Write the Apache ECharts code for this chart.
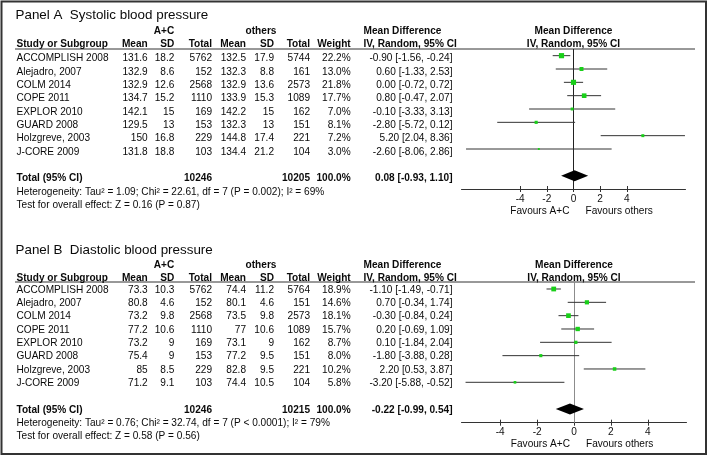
<!DOCTYPE html>
<html><head><meta charset="utf-8">
<script src="https://cdn.jsdelivr.net/npm/echarts@6/dist/echarts.min.js"></script>
<style>html,body{margin:0;padding:0;background:#fff}#c{width:709px;height:456px}</style>
</head><body><div id="c"></div>
<script>
// ---------- DATA ----------
const studies = ["ACCOMPLISH 2008","Alejadro, 2007","COLM 2014","COPE 2011","EXPLOR 2010","GUARD 2008","Holzgreve, 2003","J-CORE 2009"];

// Panel A: Systolic
const aTitle = "Panel A  Systolic blood pressure";
const aMeanAC = [131.6,132.9,132.9,134.7,142.1,129.5,150,131.8];
const aSdAC   = [18.2,8.6,12.6,15.2,15,13,16.8,18.8];
const aNAC    = [5762,152,2568,1110,169,153,229,103];
const aMeanO  = [132.5,132.3,132.9,133.9,142.2,132.3,144.8,134.4];
const aSdO    = [17.9,8.8,13.6,15.3,15,13,17.4,21.2];
const aNO     = [5744,161,2573,1089,162,151,221,104];
const aWeight = [22.2,13.0,21.8,17.7,7.0,8.1,7.2,3.0];
const aMD     = [-0.90,0.60,0.00,0.80,-0.10,-2.80,5.20,-2.60];
const aLo     = [-1.56,-1.33,-0.72,-0.47,-3.33,-5.72,2.04,-8.06];
const aHi     = [-0.24,2.53,0.72,2.07,3.13,0.12,8.36,2.86];
const aTotal  = {nAC:10246, nO:10205, w:100.0, md:0.08, lo:-0.93, hi:1.10};
const aHet    = "Heterogeneity: Tau² = 1.09; Chi² = 22.61, df = 7 (P = 0.002); I² = 69%";
const aTest   = "Test for overall effect: Z = 0.16 (P = 0.87)";

// Panel B: Diastolic
const bTitle = "Panel B  Diastolic blood pressure";
const bMeanAC = [73.3,80.8,73.2,77.2,73.2,75.4,85,71.2];
const bSdAC   = [10.3,4.6,9.8,10.6,9,9,8.5,9.1];
const bNAC    = [5762,152,2568,1110,169,153,229,103];
const bMeanO  = [74.4,80.1,73.5,77,73.1,77.2,82.8,74.4];
const bSdO    = [11.2,4.6,9.8,10.6,9,9.5,9.5,10.5];
const bNO     = [5764,151,2573,1089,162,151,221,104];
const bWeight = [18.9,14.6,18.1,15.7,8.7,8.0,10.2,5.8];
const bMD     = [-1.10,0.70,-0.30,0.20,0.10,-1.80,2.20,-3.20];
const bLo     = [-1.49,-0.34,-0.84,-0.69,-1.84,-3.88,0.53,-5.88];
const bHi     = [-0.71,1.74,0.24,1.09,2.04,0.28,3.87,-0.52];
const bTotal  = {nAC:10246, nO:10215, w:100.0, md:-0.22, lo:-0.99, hi:0.54};
const bHet    = "Heterogeneity: Tau² = 0.76; Chi² = 32.74, df = 7 (P < 0.0001); I² = 79%";
const bTest   = "Test for overall effect: Z = 0.58 (P = 0.56)";

const xTicks = [-4,-2,0,2,4];
const groupLabels = ["A+C","others"];
const colHeads = ["Study or Subgroup","Mean","SD","Total","Mean","SD","Total","Weight"];
const mdHead1 = "Mean Difference", mdHead2 = "IV, Random, 95% CI";
const favLeft = "Favours A+C", favRight = "Favours others";
const totalLabel = "Total (95% CI)";

// ---------- LAYOUT / STYLE ----------
const FONT = '"Liberation Sans", Arial, sans-serif';
const TXT = '#0a0a0a';
const GREEN = '#19cf19';
const colX = [16.5,147.7,174.3,212,246,274,310,350.7,452.5];
const colAlign = ['left','right','right','right','right','right','right','right','right'];
const layouts = [
  {name:'A', top:49, height:140, left:461.5, width:224, yMin:-0.5, yMax:10, xMin:-8.4, xMax:8.4,
   textOff:3, rTitle:-3.28, rGroup:-2.08, rHead:-1.08, zeroColor:'#222'},
  {name:'B', top:282, height:140.7, left:461.5, width:225, yMin:-0.525, yMax:10.03, xMin:-6.1, xMax:6.1,
   textOff:1, rTitle:-2.95, rGroup:-1.85, rHead:-0.9, zeroColor:'#8c8c8c'}
];

function fmtCI(m,l,h){ return m.toFixed(2)+' ['+l.toFixed(2)+', '+h.toFixed(2)+']'; }
function txt(x, y, s, align, bold, size) {
  return {type:'text', x:x, y:y, silent:true,
    style:{text:s, align:align, verticalAlign:'middle',
      font:(bold?'bold ':'')+(size||10.1)+'px '+FONT, fill:TXT}};
}

const panels = [
  {title:aTitle, meanAC:aMeanAC, sdAC:aSdAC, nAC:aNAC, meanO:aMeanO, sdO:aSdO, nO:aNO, w:aWeight, md:aMD, lo:aLo, hi:aHi, total:aTotal, het:aHet, test:aTest},
  {title:bTitle, meanAC:bMeanAC, sdAC:bSdAC, nAC:bNAC, meanO:bMeanO, sdO:bSdO, nO:bNO, w:bWeight, md:bMD, lo:bLo, hi:bHi, total:bTotal, het:bHet, test:bTest}
];

const grids = [], xAxes = [], yAxes = [], series = [], graphics = [];

panels.forEach((P, pi) => {
  const L = layouts[pi];
  const gMain = grids.length;
  const gridRect = {left:L.left, top:L.top, width:L.width, height:L.height};
  grids.push(Object.assign({}, gridRect));
  grids.push(Object.assign({}, gridRect));
  // main axes
  xAxes.push({gridIndex:gMain, type:'value', min:L.xMin, max:L.xMax, position:'bottom',
    splitLine:{show:false},
    axisLine:{show:true, onZero:false, lineStyle:{color:'#333', width:1}},
    axisTick:{show:true, customValues:xTicks, length:3, lineStyle:{color:'#333'}},
    axisLabel:{show:true, customValues:xTicks, color:'#111', fontSize:10.1, fontFamily:FONT, margin:5}});
  yAxes.push({gridIndex:gMain, type:'value', inverse:true, min:L.yMin, max:L.yMax, show:false});
  // overlay axes for inward tick halves
  xAxes.push({gridIndex:gMain+1, type:'value', min:L.xMin, max:L.xMax, position:'bottom',
    splitLine:{show:false}, axisLine:{show:false, onZero:false}, axisLabel:{show:false},
    axisTick:{show:true, inside:true, customValues:xTicks, length:3, lineStyle:{color:'#333'}}});
  yAxes.push({gridIndex:gMain+1, type:'value', inverse:true, min:L.yMin, max:L.yMax, show:false});

  // header underline
  graphics.push({type:'line', silent:true, shape:{x1:15, y1:L.top, x2:695, y2:L.top},
    style:{stroke:'#333', lineWidth:1}});

  // forest marks
  const fData = P.md.map((m,i)=>[m, P.lo[i], P.hi[i], i, P.w[i]]);
  series.push({type:'custom', xAxisIndex:gMain, yAxisIndex:gMain, data:fData, z:5,
    encode:{x:[0,1,2], y:3},
    markLine:{silent:true, symbol:'none', label:{show:false},
      lineStyle:{color:L.zeroColor, width:1, type:'solid'}, data:[{xAxis:0}]},
    renderItem:function(params, api){
      const m = api.value(0), lo = api.value(1), hi = api.value(2), r = api.value(3), w = api.value(4);
      const pl = api.coord([lo, r]), ph = api.coord([hi, r]), pm = api.coord([m, r]);
      const s = 1.1*Math.sqrt(w);
      return {type:'group', children:[
        {type:'line', shape:{x1:pl[0], y1:pl[1], x2:ph[0], y2:ph[1]}, style:{stroke:'#333', lineWidth:1}},
        {type:'rect', shape:{x:pm[0]-s/2, y:pm[1]-s/2, width:s, height:s}, style:{fill:GREEN}}
      ]};
    }});
  // diamond
  series.push({type:'custom', xAxisIndex:gMain, yAxisIndex:gMain, z:6,
    data:[[P.total.md, P.total.lo, P.total.hi, 9]], encode:{x:[0,1,2], y:3},
    renderItem:function(params, api){
      const m = api.value(0), lo = api.value(1), hi = api.value(2), r = api.value(3);
      const pl = api.coord([lo, r]), ph = api.coord([hi, r]), pm = api.coord([m, r]);
      const h = 5.5;
      return {type:'polygon', shape:{points:[[pl[0],pl[1]],[pm[0],pm[1]-h],[ph[0],ph[1]],[pm[0],pm[1]+h]]},
        style:{fill:'#000'}};
    }});

  // table text rows
  const rows = [];
  rows.push({kind:'title', r:L.rTitle});
  rows.push({kind:'group', r:L.rGroup});
  rows.push({kind:'head', r:L.rHead});
  studies.forEach((s,i)=>rows.push({kind:'study', i:i, r:i}));
  rows.push({kind:'total', r:9});
  rows.push({kind:'het', r:10});
  rows.push({kind:'test', r:11});
  rows.push({kind:'fav', r:L.yMax});
  series.push({type:'custom', xAxisIndex:gMain, yAxisIndex:gMain, z:10, clip:false,
    data:rows.map(d=>[0, d.r]), encode:{x:0, y:1},
    renderItem:function(params, api){
      const d = rows[params.dataIndex];
      const p0 = api.coord([0, d.r]);
      const x0 = p0[0];
      const y = p0[1] + L.textOff;
      const ch = [];
      if (d.kind === 'title') {
        ch.push(txt(15.5, y, P.title, 'left', false, 13.4));
      } else if (d.kind === 'group') {
        ch.push(txt(164, y, groupLabels[0], 'center', true));
        ch.push(txt(261, y, groupLabels[1], 'center', true));
        ch.push(txt(363.5, y, mdHead1, 'left', true));
        ch.push(txt(x0, y, mdHead1, 'center', true));
      } else if (d.kind === 'head') {
        colHeads.forEach((h,k)=>ch.push(txt(colX[k], y, h, colAlign[k], true)));
        ch.push(txt(363.5, y, mdHead2, 'left', true));
        ch.push(txt(x0, y, mdHead2, 'center', true));
      } else if (d.kind === 'study') {
        const i = d.i;
        const cells = [studies[i], String(P.meanAC[i]), String(P.sdAC[i]), String(P.nAC[i]),
          String(P.meanO[i]), String(P.sdO[i]), String(P.nO[i]), P.w[i].toFixed(1)+'%',
          fmtCI(P.md[i], P.lo[i], P.hi[i])];
        cells.forEach((c,k)=>ch.push(txt(colX[k], y, c, colAlign[k], false)));
      } else if (d.kind === 'total') {
        ch.push(txt(colX[0], y, totalLabel, 'left', true));
        ch.push(txt(colX[3], y, String(P.total.nAC), 'right', true));
        ch.push(txt(colX[6], y, String(P.total.nO), 'right', true));
        ch.push(txt(colX[7], y, P.total.w.toFixed(1)+'%', 'right', true));
        ch.push(txt(colX[8], y, fmtCI(P.total.md, P.total.lo, P.total.hi), 'right', true));
      } else if (d.kind === 'het') {
        ch.push(txt(colX[0], y, P.het, 'left', false));
      } else if (d.kind === 'test') {
        ch.push(txt(colX[0], y, P.test, 'left', false));
      } else if (d.kind === 'fav') {
        const yf = p0[1] + 22;
        ch.push(txt(x0-4, yf, favLeft, 'right', false));
        ch.push(txt(x0+12, yf, favRight, 'left', false));
      }
      return {type:'group', children:ch};
    }});
});

// outer frame
graphics.push({type:'rect', silent:true, shape:{x:1.5, y:1.5, width:704.5, height:452.5},
  style:{fill:'none', stroke:'#333', lineWidth:2}});

const chart = echarts.init(document.getElementById('c'), null, {renderer:'canvas'});
chart.setOption({
  animation:false,
  backgroundColor:'#fff',
  grid:grids, xAxis:xAxes, yAxis:yAxes, series:series, graphic:graphics
});
</script>
</body></html>
